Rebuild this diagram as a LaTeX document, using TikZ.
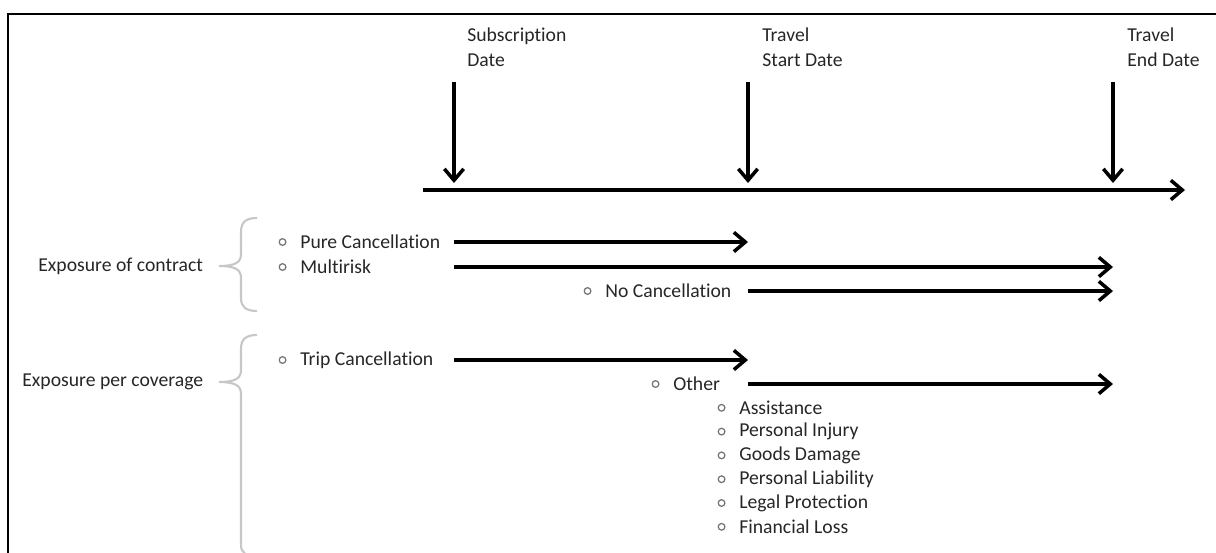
\documentclass[tikz,border=0pt]{standalone}
\usepackage{fontspec}
\setmainfont{Carlito}[Ligatures=NoCommon]
\usetikzlibrary{arrows.meta,positioning}

\tikzset{
  frameline/.style={line width=1.6pt, line cap=rect},
  timeline/.style={line width=2pt, -{Straight Barb[length=6.5pt,width=11pt]}},
  span/.style={line width=2pt, -{Straight Barb[length=6.5pt,width=11pt]}},
  grbrace/.style={draw=black!22, line width=1.2pt},
  txt/.style={inner sep=0pt, text=black!85, font=\fontsize{11.2}{14.7}\selectfont},
  datelbl/.style={txt, anchor=north west, align=left},
  item/.style={txt, anchor=west},
  bul/.style={circle, draw=black!55, line width=0.7pt, inner sep=0pt, minimum size=3.8pt}
}

\begin{document}
\begin{tikzpicture}[x=0.02cm, y=0.02cm]
    \useasboundingbox (0,0) rectangle (1216,-552);
    \clip (0,0) rectangle (1216,-552);
    % frame, cut at right and bottom
    \draw [frameline] (1220,-14) -- (8,-14) -- (8,-560);

    % dates on the time axis
    \coordinate (subs) at (454,-82);
    \coordinate (start) at (748,-82);
    \coordinate (finish) at (1113,-82);
    \coordinate (t0) at (423,-190);
    \coordinate (t1) at (1185,-190);
    \node [datelbl] (lsubs) at (467,-27) {Subscription\\Date};
    \node [datelbl] (lstart) at (762,-27) {Travel\\Start Date};
    \node [datelbl] (lfinish) at (1127,-27) {Travel\\End Date};
    \draw [timeline] (t0) -- (t1);
    \draw [timeline, shorten >=0.14cm] (subs) -- (subs |- t0);
    \draw [timeline, shorten >=0.14cm] (start) -- (start |- t0);
    \draw [timeline, shorten >=0.14cm] (finish) -- (finish |- t0);

    % exposure of contract
    \node [item] (expc) at (38,-266) {Exposure of contract};
    \draw [grbrace] (257,-218) .. controls (246,-218) and (241,-222) .. (241,-232) -- (241,-254)
        .. controls (241,-262) and (236,-266) .. (219,-266)
        .. controls (236,-266) and (241,-270) .. (241,-278) -- (241,-298)
        .. controls (241,-307) and (246,-311) .. (257,-311);
    \node [item] (pure) at (300,-242) {Pure Cancellation};
    \node [item] (multi) at (300,-267) {Multirisk};
    \node [item] (nocanc) at (605,-291) {No Cancellation};
    \node [bul, left=0.27cm of pure] (bpure) {};
    \node [bul, left=0.27cm of multi] (bmulti) {};
    \node [bul, left=0.27cm of nocanc] (bnocanc) {};
    \draw [span] (pure.east -| subs) -- (pure.east -| start);
    \draw [span] (multi.east -| subs) -- (multi.east -| finish);
    \draw [span] (nocanc.east -| start) -- (nocanc.east -| finish);

    % exposure per coverage
    \node [item] (expv) at (22,-382) {Exposure per coverage};
    \draw [grbrace] (257,-335) .. controls (246,-335) and (241,-339) .. (241,-349) -- (241,-370)
        .. controls (241,-378) and (236,-382) .. (219,-382)
        .. controls (236,-382) and (241,-386) .. (241,-394) -- (241,-545)
        .. controls (241,-553) and (246,-556) .. (257,-556);
    \node [item] (trip) at (300,-360) {Trip Cancellation};
    \node [item] (other) at (673,-384) {Other};
    \node [bul, left=0.27cm of trip] (btrip) {};
    \node [bul, left=0.27cm of other] (bother) {};
    \draw [span] (trip.east -| subs) -- (trip.east -| start);
    \draw [span] (other.east -| start) -- (other.east -| finish);
    \foreach \t [count=\i] in {Assistance, Personal Injury, Goods Damage,
        Personal Liability, Legal Protection, Financial Loss} {
      \node [item] (cov\i) at (739,-384-23.8*\i) {\t};
      \node [bul, left=0.27cm of cov\i] (bcov\i) {};
    }
\end{tikzpicture}
\end{document}
